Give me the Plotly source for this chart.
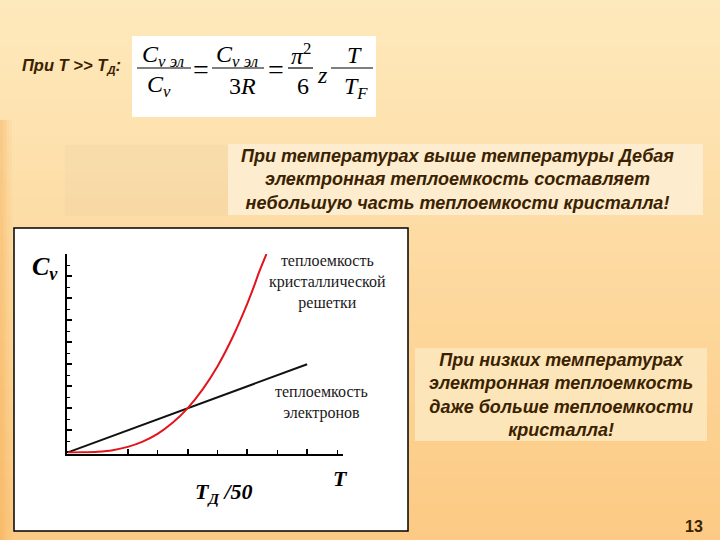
import plotly.graph_objects as go

# ---------------- data ----------------
x_electron = [0.0, 4.0]
y_electron = [0.0, 4.0]

x_lattice = [0.0, 0.25, 0.5, 0.75, 1.0, 1.25, 1.5, 1.75, 2.0, 2.25, 2.5, 2.75, 3.0, 3.1, 3.2, 3.32]
y_lattice = [0.0, 0.004, 0.03, 0.1, 0.25, 0.49, 0.84, 1.34, 2.0, 2.85, 3.9, 5.2, 6.75, 7.45, 8.2, 9.0]

x_major_ticks = [1, 2, 3, 4]
x_minor_ticks = [1.5, 2.5, 3.5, 4.5]

label_lattice = "теплоемкость<br>кристаллической<br>решетки"
label_electron = "теплоемкость<br>электронов"
label_cv = "<b><i>C<sub>v</sub></i></b>"
label_T = "<b><i>T</i></b>"
label_TD = "<b><i>T<sub>Д</sub> /50</i></b>"

note_top = "При температурах выше температуры Дебая<br>электронная теплоемкость составляет<br>небольшую часть теплоемкости кристалла!"
note_low = "При низких температурах<br>электронная теплоемкость<br>даже больше теплоемкости<br>кристалла!"
title_cond = "<b><i>При T &gt;&gt; T<sub>Д</sub>:</i></b>"
page_no = "<b>13</b>"

W, H = 720, 540
def px(x):
    return x / W
def py(y):
    return 1 - y / H

BROWN = "#3a2200"
SANS = "Liberation Sans, Arial, sans-serif"
SERIF = "Liberation Serif, Times New Roman, serif"

shapes = []
# background gradient (vertical)
top_c = (254, 233, 188)
bot_c = (252, 202, 132)
n = 60
for i in range(n):
    t = i / (n - 1)
    c = tuple(int(round(top_c[k] + (bot_c[k] - top_c[k]) * t)) for k in range(3))
    shapes.append(dict(type="rect", xref="paper", yref="paper", layer="below",
                       x0=0, x1=1, y0=py((i + 1) * H / n + 0.5), y1=py(i * H / n),
                       fillcolor="rgb(%d,%d,%d)" % c, line=dict(width=0)))
# left edge darker strip
for j, a in enumerate([0.35, 0.25, 0.15, 0.07]):
    shapes.append(dict(type="rect", xref="paper", yref="paper", layer="below",
                       x0=px(j * 3), x1=px(j * 3 + 3), y0=0, y1=py(120),
                       fillcolor="rgba(240,160,60,%.2f)" % a, line=dict(width=0)))
# faint panel left of top note
shapes.append(dict(type="rect", xref="paper", yref="paper", layer="below",
                   x0=px(65), x1=px(228), y0=py(216), y1=py(145),
                   fillcolor="rgba(190,170,150,0.07)", line=dict(width=0)))
# note boxes
shapes.append(dict(type="rect", xref="paper", yref="paper", layer="below",
                   x0=px(228), x1=px(703), y0=py(215), y1=py(144),
                   fillcolor="#fdecce", line=dict(width=0)))
shapes.append(dict(type="rect", xref="paper", yref="paper", layer="below",
                   x0=px(415), x1=px(707), y0=py(441), y1=py(348),
                   fillcolor="#fde5ba", line=dict(width=0)))
# formula box
shapes.append(dict(type="rect", xref="paper", yref="paper", layer="below",
                   x0=px(132), x1=px(376), y0=py(117), y1=py(36),
                   fillcolor="white", line=dict(width=0)))
# chart box
shapes.append(dict(type="rect", xref="paper", yref="paper", layer="below",
                   x0=px(14), x1=px(408), y0=py(531), y1=py(228),
                   fillcolor="white", line=dict(color="black", width=1.5)))
# fraction bars
for (a, b) in [(137, 191), (212, 264), (288, 313), (331, 373)]:
    shapes.append(dict(type="line", xref="paper", yref="paper",
                       x0=px(a), x1=px(b), y0=py(68), y1=py(68),
                       line=dict(color="black", width=1.2)))

ann = []
def add_text(x, y, text, size, family=SANS, color=BROWN, align="center", xanchor="center"):
    ann.append(dict(x=px(x), y=py(y), xref="paper", yref="paper", text=text,
                    showarrow=False, xanchor=xanchor, yanchor="middle", align=align,
                    font=dict(size=size, family=family, color=color)))

# formula
FS = 24
add_text(163, 56, "<i>C<sub>v эл</sub></i>", FS, SERIF, "black")
add_text(159, 86, "<i>C<sub>v</sub></i>", FS, SERIF, "black")
add_text(201, 69, "=", 28, SERIF, "black")
add_text(237, 56, "<i>C<sub>v эл</sub></i>", FS, SERIF, "black")
add_text(242, 86, "3<i>R</i>", FS, SERIF, "black")
add_text(276, 69, "=", 28, SERIF, "black")
add_text(301, 54, "<i>π</i><sup>2</sup>", FS, SERIF, "black")
add_text(303, 86, "6", FS, SERIF, "black")
add_text(322, 75, "<i>z</i>", FS, SERIF, "black")
add_text(354, 55, "<i>T</i>", FS, SERIF, "black")
add_text(356, 88, "<i>T<sub>F</sub></i>", FS, SERIF, "black")

add_text(20, 66, title_cond, 16.5, xanchor="left", align="left")
add_text(457, 180, "<b><i>" + note_top + "</i></b>", 18)
add_text(561, 395, "<b><i>" + note_low + "</i></b>", 18)
add_text(694, 526, page_no, 16)

# chart labels
add_text(327, 282, label_lattice, 16, SERIF, "#1a1a1a")
add_text(321, 402, label_electron, 16, SERIF, "#1a1a1a")
add_text(45, 268, label_cv, 26, SERIF, "black")
add_text(340, 478, label_T, 22, SERIF, "black")
add_text(224, 493, label_TD, 22, SERIF, "black")

fig = go.Figure()
fig.add_trace(go.Scatter(x=x_electron, y=y_electron, mode="lines",
                         line=dict(color="#111111", width=2), showlegend=False))
fig.add_trace(go.Scatter(x=x_lattice, y=y_lattice, mode="lines",
                         line=dict(color="#e3141c", width=2, shape="spline"), showlegend=False))

x0p, x1p = 66.7, 343.0
y0p, y1p = 453.5, 254.0
fig.update_layout(
    width=W, height=H,
    margin=dict(l=0, r=0, t=0, b=0),
    paper_bgcolor="#fde4b4", plot_bgcolor="rgba(0,0,0,0)",
    shapes=shapes, annotations=ann,
    xaxis=dict(domain=[px(x0p), px(x1p)], range=[-0.02, 4.6], showgrid=False, zeroline=False,
               showline=True, linecolor="black", linewidth=2, layer="below traces",
               tickmode="array", tickvals=x_major_ticks, ticks="inside", ticklen=5,
               tickwidth=1.5, tickcolor="black", showticklabels=False,
               minor=dict(tickmode="array", tickvals=x_minor_ticks, ticks="inside",
                          ticklen=4, tickwidth=1.2, tickcolor="black")),
    yaxis=dict(domain=[py(y0p), py(y1p)], range=[-0.05, 9.0], showgrid=False, zeroline=False,
               showline=True, linecolor="black", linewidth=2, layer="below traces",
               tickmode="linear", tick0=0, dtick=1, ticks="inside", ticklen=5,
               tickwidth=1.5, tickcolor="black", showticklabels=False,
               minor=dict(dtick=0.5, ticks="inside", ticklen=3, tickwidth=1.2,
                          tickcolor="black")),
)

fig.write_html("out.html", config=dict(displayModeBar=False),
               post_script="document.body.style.margin='0';document.body.style.padding='0';document.body.style.overflow='hidden';")
